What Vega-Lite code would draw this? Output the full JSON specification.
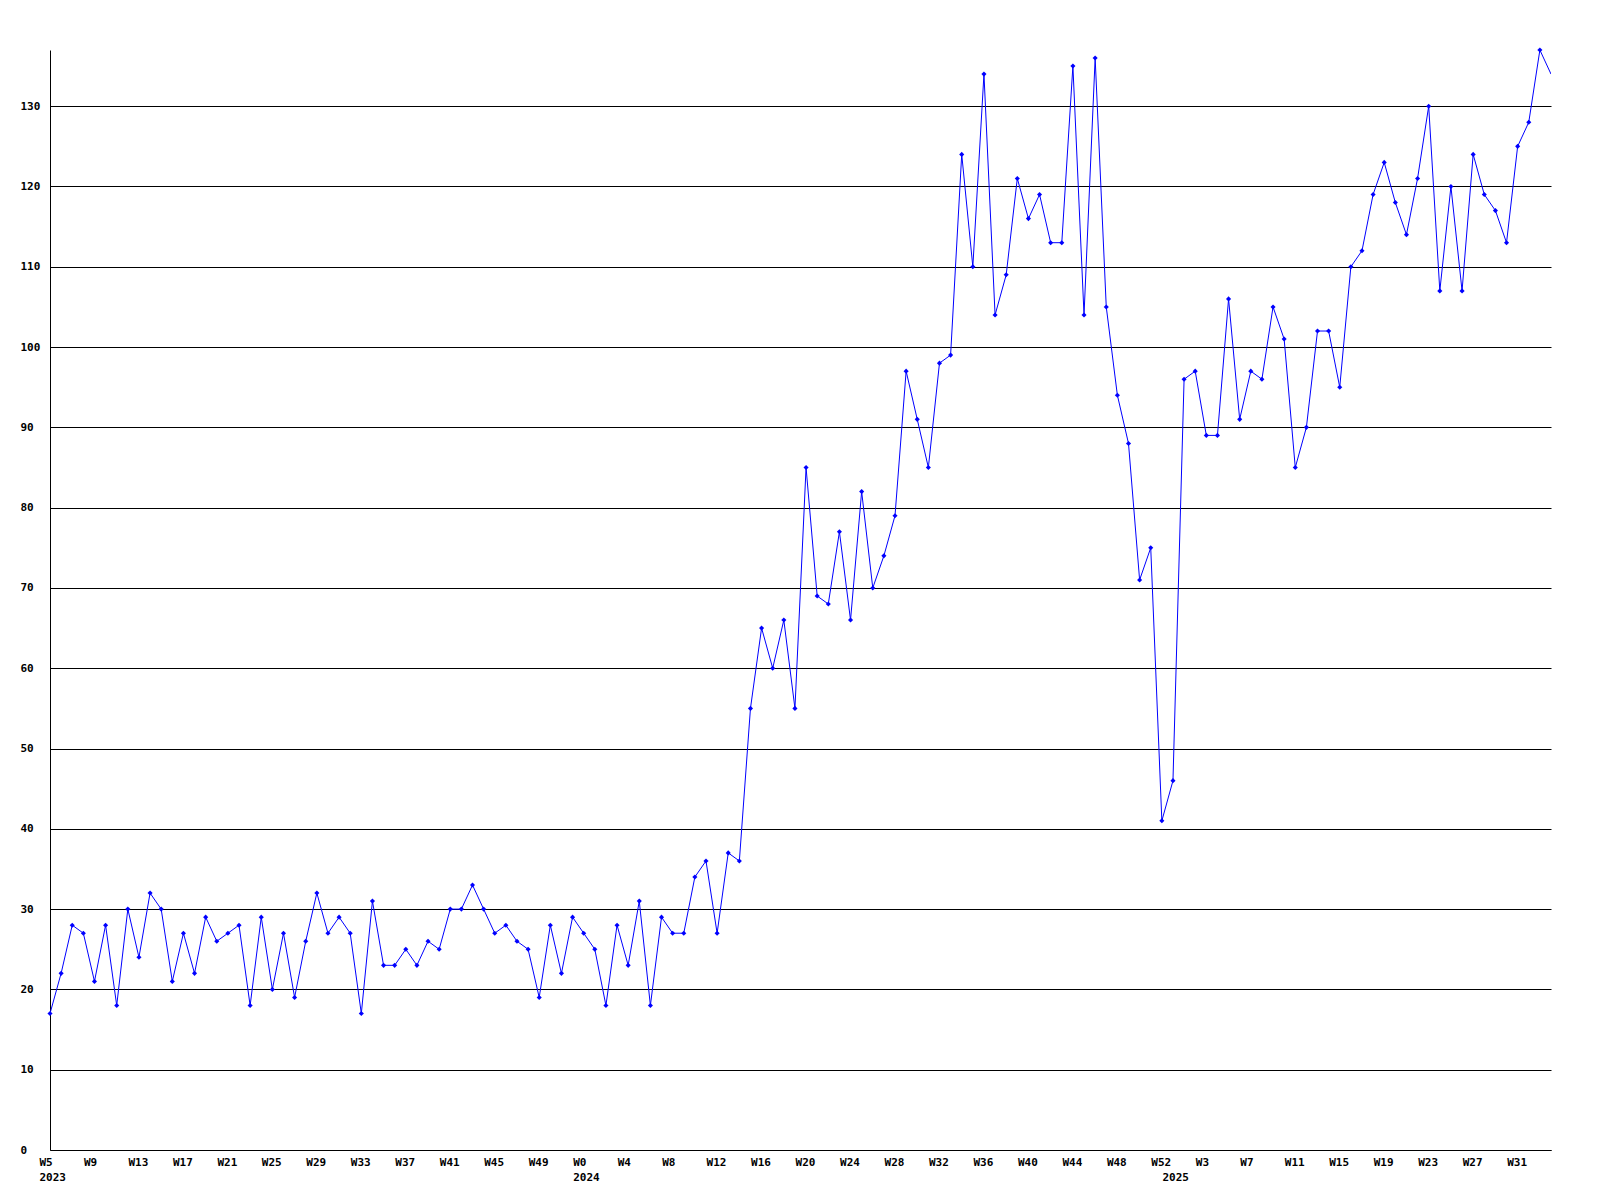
{
  "$schema": "https://vega.github.io/schema/vega-lite/v6.json",
  "autosize": {"type": "none"},
  "padding": {"left": 50, "top": 50, "right": 49, "bottom": 50},
  "width": 1501,
  "height": 1100,
  "background": "white",
  "config": {"view": {"stroke": null}},
  "data": {"values": [
    {"week": "2023-W05", "count": 17}, {"week": "2023-W06", "count": 22}, {"week": "2023-W07", "count": 28}, {"week": "2023-W08", "count": 27},
    {"week": "2023-W09", "count": 21}, {"week": "2023-W10", "count": 28}, {"week": "2023-W11", "count": 18}, {"week": "2023-W12", "count": 30},
    {"week": "2023-W13", "count": 24}, {"week": "2023-W14", "count": 32}, {"week": "2023-W15", "count": 30}, {"week": "2023-W16", "count": 21},
    {"week": "2023-W17", "count": 27}, {"week": "2023-W18", "count": 22}, {"week": "2023-W19", "count": 29}, {"week": "2023-W20", "count": 26},
    {"week": "2023-W21", "count": 27}, {"week": "2023-W22", "count": 28}, {"week": "2023-W23", "count": 18}, {"week": "2023-W24", "count": 29},
    {"week": "2023-W25", "count": 20}, {"week": "2023-W26", "count": 27}, {"week": "2023-W27", "count": 19}, {"week": "2023-W28", "count": 26},
    {"week": "2023-W29", "count": 32}, {"week": "2023-W30", "count": 27}, {"week": "2023-W31", "count": 29}, {"week": "2023-W32", "count": 27},
    {"week": "2023-W33", "count": 17}, {"week": "2023-W34", "count": 31}, {"week": "2023-W35", "count": 23}, {"week": "2023-W36", "count": 23},
    {"week": "2023-W37", "count": 25}, {"week": "2023-W38", "count": 23}, {"week": "2023-W39", "count": 26}, {"week": "2023-W40", "count": 25},
    {"week": "2023-W41", "count": 30}, {"week": "2023-W42", "count": 30}, {"week": "2023-W43", "count": 33}, {"week": "2023-W44", "count": 30},
    {"week": "2023-W45", "count": 27}, {"week": "2023-W46", "count": 28}, {"week": "2023-W47", "count": 26}, {"week": "2023-W48", "count": 25},
    {"week": "2023-W49", "count": 19}, {"week": "2023-W50", "count": 28}, {"week": "2023-W51", "count": 22}, {"week": "2023-W52", "count": 29},
    {"week": "2024-W00", "count": 27}, {"week": "2024-W01", "count": 25}, {"week": "2024-W02", "count": 18}, {"week": "2024-W03", "count": 28},
    {"week": "2024-W04", "count": 23}, {"week": "2024-W05", "count": 31}, {"week": "2024-W06", "count": 18}, {"week": "2024-W07", "count": 29},
    {"week": "2024-W08", "count": 27}, {"week": "2024-W09", "count": 27}, {"week": "2024-W10", "count": 34}, {"week": "2024-W11", "count": 36},
    {"week": "2024-W12", "count": 27}, {"week": "2024-W13", "count": 37}, {"week": "2024-W14", "count": 36}, {"week": "2024-W15", "count": 55},
    {"week": "2024-W16", "count": 65}, {"week": "2024-W17", "count": 60}, {"week": "2024-W18", "count": 66}, {"week": "2024-W19", "count": 55},
    {"week": "2024-W20", "count": 85}, {"week": "2024-W21", "count": 69}, {"week": "2024-W22", "count": 68}, {"week": "2024-W23", "count": 77},
    {"week": "2024-W24", "count": 66}, {"week": "2024-W25", "count": 82}, {"week": "2024-W26", "count": 70}, {"week": "2024-W27", "count": 74},
    {"week": "2024-W28", "count": 79}, {"week": "2024-W29", "count": 97}, {"week": "2024-W30", "count": 91}, {"week": "2024-W31", "count": 85},
    {"week": "2024-W32", "count": 98}, {"week": "2024-W33", "count": 99}, {"week": "2024-W34", "count": 124}, {"week": "2024-W35", "count": 110},
    {"week": "2024-W36", "count": 134}, {"week": "2024-W37", "count": 104}, {"week": "2024-W38", "count": 109}, {"week": "2024-W39", "count": 121},
    {"week": "2024-W40", "count": 116}, {"week": "2024-W41", "count": 119}, {"week": "2024-W42", "count": 113}, {"week": "2024-W43", "count": 113},
    {"week": "2024-W44", "count": 135}, {"week": "2024-W45", "count": 104}, {"week": "2024-W46", "count": 136}, {"week": "2024-W47", "count": 105},
    {"week": "2024-W48", "count": 94}, {"week": "2024-W49", "count": 88}, {"week": "2024-W50", "count": 71}, {"week": "2024-W51", "count": 75},
    {"week": "2024-W52", "count": 41},
    {"week": "2025-W00", "count": 46}, {"week": "2025-W01", "count": 96}, {"week": "2025-W02", "count": 97}, {"week": "2025-W03", "count": 89},
    {"week": "2025-W04", "count": 89}, {"week": "2025-W05", "count": 106}, {"week": "2025-W06", "count": 91}, {"week": "2025-W07", "count": 97},
    {"week": "2025-W08", "count": 96}, {"week": "2025-W09", "count": 105}, {"week": "2025-W10", "count": 101}, {"week": "2025-W11", "count": 85},
    {"week": "2025-W12", "count": 90}, {"week": "2025-W13", "count": 102}, {"week": "2025-W14", "count": 102}, {"week": "2025-W15", "count": 95},
    {"week": "2025-W16", "count": 110}, {"week": "2025-W17", "count": 112}, {"week": "2025-W18", "count": 119}, {"week": "2025-W19", "count": 123},
    {"week": "2025-W20", "count": 118}, {"week": "2025-W21", "count": 114}, {"week": "2025-W22", "count": 121}, {"week": "2025-W23", "count": 130},
    {"week": "2025-W24", "count": 107}, {"week": "2025-W25", "count": 120}, {"week": "2025-W26", "count": 107}, {"week": "2025-W27", "count": 124},
    {"week": "2025-W28", "count": 119}, {"week": "2025-W29", "count": 117}, {"week": "2025-W30", "count": 113}, {"week": "2025-W31", "count": 125},
    {"week": "2025-W32", "count": 128}, {"week": "2025-W33", "count": 137}, {"week": "2025-W34", "count": 134}
  ]},
  "encoding": {
    "x": {
      "field": "week", "type": "ordinal", "sort": null,
      "scale": {"type": "point", "padding": 0},
      "axis": {
        "title": null,
        "values": ["2023-W05","2023-W09","2023-W13","2023-W17","2023-W21","2023-W25","2023-W29","2023-W33","2023-W37","2023-W41","2023-W45","2023-W49",
                   "2024-W00","2024-W04","2024-W08","2024-W12","2024-W16","2024-W20","2024-W24","2024-W28","2024-W32","2024-W36","2024-W40","2024-W44","2024-W48","2024-W52",
                   "2025-W00","2025-W03","2025-W07","2025-W11","2025-W15","2025-W19","2025-W23","2025-W27","2025-W31"],
        "labelExpr": "datum.value == '2023-W05' ? ['W5', '2023'] : datum.value == '2024-W00' ? ['W0', '2024'] : datum.value == '2025-W00' ? ['', '2025'] : 'W' + parseInt(split(datum.value, '-W')[1])",
        "labelAngle": 0,
        "labelAlign": "left",
        "labelBaseline": "top",
        "labelOffset": -11,
        "labelPadding": 6,
        "labelLineHeight": 15,
        "labelFont": "DejaVu Sans Mono",
        "labelFontWeight": "bold",
        "labelFontSize": 11,
        "labelColor": "black",
        "labelOverlap": false,
        "labelBound": false,
        "labelFlush": false,
        "ticks": false,
        "tickSize": 0,
        "domain": true,
        "domainColor": "black",
        "domainWidth": 1,
        "grid": false
      }
    },
    "y": {
      "field": "count", "type": "quantitative",
      "scale": {"domain": [0, 137], "nice": false, "zero": true},
      "axis": {
        "title": null,
        "values": [0, 10, 20, 30, 40, 50, 60, 70, 80, 90, 100, 110, 120, 130],
        "labelAlign": "left",
        "labelBaseline": "middle",
        "labelPadding": 30,
        "labelFont": "DejaVu Sans Mono",
        "labelFontWeight": "bold",
        "labelFontSize": 11,
        "labelColor": "black",
        "labelOverlap": false,
        "ticks": false,
        "tickSize": 0,
        "domain": true,
        "domainColor": "black",
        "domainWidth": 1,
        "grid": true,
        "gridColor": "black",
        "gridOpacity": 1,
        "gridWidth": 1
      }
    }
  },
  "layer": [
    {"mark": {"type": "line", "color": "#0000ff", "strokeWidth": 1, "clip": true}},
    {
      "transform": [{"filter": "datum.week != '2025-W34'"}],
      "mark": {"type": "point", "shape": "diamond", "size": 26, "filled": true, "color": "#0000ff", "opacity": 1}
    }
  ]
}
